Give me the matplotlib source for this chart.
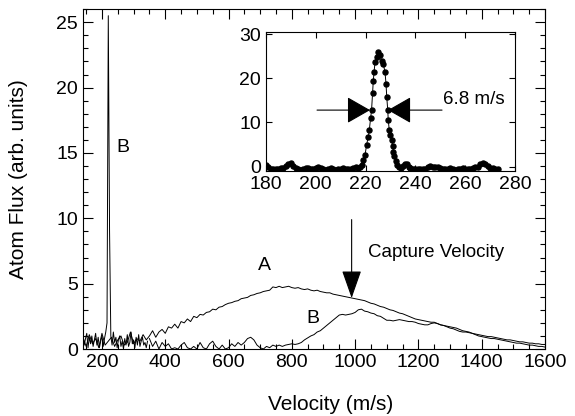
import numpy as np
import matplotlib.pyplot as plt

plt.rcParams['font.family'] = ['Liberation Sans', 'DejaVu Sans']

# curve A, sampled every 10 m/s from 140 to 1600
vel_a = np.arange(140, 1601, 10)
flux_a = [
    0.9, 0.2, 1.1, 0.4, 0.8, 0.1, 1.2, 0.3, 0.6, 0.9, 0.2, 0.7, 1.0, 0.3, 0.5,
    1.3, 0.4, 0.8, 0.6, 1.1, 0.7,
    1.0, 1.4, 0.9, 1.3, 1.5, 1.2, 1.7, 1.6, 1.9, 1.6, 2.1, 2.0, 2.3, 2.1, 2.5, 2.4,
    2.65, 2.6, 2.8, 2.85, 3.05, 3.0, 3.2, 3.25, 3.4, 3.5, 3.55, 3.65, 3.7, 3.85,
    3.9, 3.95, 4.1, 4.15, 4.25, 4.3, 4.4, 4.45, 4.5, 4.75, 4.7,
    4.8, 4.7, 4.75, 4.8, 4.7, 4.65, 4.7, 4.6, 4.55, 4.6, 4.5, 4.45, 4.5, 4.4, 4.35,
    4.3, 4.3, 4.2, 4.15, 4.1, 4.05, 4.0, 3.95, 3.9,
    3.85, 3.8, 3.75, 3.7, 3.6, 3.5, 3.45, 3.35, 3.25, 3.2, 3.1, 3.0, 2.95, 2.85,
    2.75, 2.7, 2.6, 2.5, 2.4, 2.3, 2.25, 2.2, 2.15, 2.1, 2.05, 2.05, 1.95, 1.85,
    1.8, 1.7, 1.6,
    1.55, 1.45, 1.35, 1.3, 1.3, 1.25, 1.2, 1.15, 1.1, 1.05, 1.0, 0.95, 0.95, 0.9,
    0.85, 0.8, 0.75, 0.7, 0.7, 0.65, 0.6, 0.55, 0.55, 0.5, 0.45, 0.45, 0.4, 0.4,
    0.35, 0.35,
]

# curve B, low velocity part every 4 m/s (noise + narrow peak)
vel_b_low = np.arange(140, 345, 4)
flux_b_low = [
    1.1, 0.3, 0.8, 1.2, 0.1, 0.9, 0.4, 1.0, 0.2, 0.7,
    1.2, 0.3, 0.9, 0.1, 0.6, 1.0, 0.2, 0.8, 1.3, 2.0,
    25.5, 9.0, 1.0, 0.3, 1.3, 0.5, 0.9, 0.1, 0.7, 1.0,
    0.2, 0.6, 0.0, 0.8, 0.3, 1.1, 0.2, 0.5, 1.3, 0.4,
    0.7, 0.1, 0.9, 0.3, 1.1, 0.2, 0.6, 0.9, 0.3, 0.5,
    0.1, 0.6,
]
# curve B, rest every 10 m/s
vel_b = np.arange(350, 1601, 10)
flux_b = [
    0.8, 0.2, 0.6, 0.0, 0.5, 0.2, 0.4, 0.0, 0.1, 0.0, 0.3, 0.5, 0.1, 0.0, 0.2,
    0.0, 0.5, 0.1, 0.0, 0.4, 0.6, 0.2, 0.0, 0.3, 0.0, 0.1, 0.4, 0.2, 0.5, 0.3,
    0.5, 0.8, 0.9, 0.7, 0.3, 0.1, 0.0, 0.2, 0.1, 0.3, 0.2, 0.3, 0.2, 0.3, 0.35,
    0.4, 0.35, 0.4, 0.5, 0.7, 0.85, 1.0, 1.1, 1.3, 1.4, 1.6, 1.8, 2.0, 2.2, 2.4,
    2.6, 2.65, 2.6, 2.65, 2.7, 2.8, 3.0, 3.05, 2.9, 2.85, 2.75, 2.7, 2.55, 2.5,
    2.35, 2.2, 2.2, 2.15, 2.2, 2.25, 2.2, 2.15, 2.1, 2.1, 2.05, 1.95, 1.9, 1.85,
    1.85, 1.95, 2.0, 1.95, 1.85, 1.8, 1.75, 1.7, 1.65, 1.6, 1.5, 1.4, 1.35, 1.3,
    1.2, 1.1, 1.0, 0.95, 0.9, 0.85, 0.8, 0.8, 0.75, 0.7, 0.65, 0.6, 0.55, 0.5,
    0.45, 0.45, 0.4, 0.35, 0.3, 0.3, 0.25, 0.2, 0.2, 0.15,
]

# inset: zoom of the B peak
vel_in = (
    list(range(180, 218))
    + [217.7, 218.4, 219.1, 219.8, 220.4, 221.1, 221.5, 222.0, 222.4, 222.8,
       223.1, 223.4, 223.8, 224.5, 225.1, 225.8, 226.5, 227.1, 227.8, 228.2,
       228.5, 228.9, 229.1, 229.5, 230.0, 230.5, 230.9, 231.2, 231.6, 232.2,
       232.8, 233.5, 234.2, 235.0, 235.8, 236.5, 237.3, 238.0]
    + list(range(239, 274))
)
flux_in = [
    0.4, -0.2, -0.5, -0.5, -0.6, -0.6, -0.4, -0.3, 0.1, 0.6, 0.7, 0.2, -0.4,
    -0.6, -0.7, -0.5, -0.3, -0.3, -0.5, -0.6, -0.4, -0.2, -0.3, -0.6, -0.7,
    -0.6, -0.4, -0.5, -0.7, -0.6, -0.5, -0.4, -0.5, -0.6, -0.5, -0.3, -0.2, -0.3,
    0.0, 0.45, 1.6, 2.7, 4.9, 6.8, 8.3, 10.9, 12.8, 16.6, 19.5, 21.4, 23.7,
    24.8, 25.9, 25.2, 24.0, 23.3, 21.4, 18.8, 15.8, 12.8, 10.6, 8.3, 7.2, 6.0,
    4.6, 3.4, 2.3, 1.2, 0.4, -0.1, -0.3, 0.2, 0.6, 0.5, -0.1, -0.4,
    -0.5, -0.6, -0.6, -0.5, -0.6, -0.5, -0.1, 0.1, -0.2, 0.0, -0.1, -0.4, -0.5,
    -0.6, -0.5, -0.4, -0.6, -0.7, -0.6, -0.5, -0.4, -0.5, -0.6, -0.5, -0.3,
    -0.2, 0.0, 0.5, 0.8, 0.6, 0.1, -0.3, -0.4, -0.5, -0.5,
]

fig = plt.figure(figsize=(5.75, 4.16), dpi=100)
ax = fig.add_axes([0.1443, 0.161, 0.8035, 0.817])

lw = 0.7
ax.plot(vel_a, flux_a, color='black', lw=lw)
ax.plot(vel_b_low, flux_b_low, color='black', lw=lw)
ax.plot(vel_b, flux_b, color='black', lw=lw)

ax.set_xlim(140, 1600)
ax.set_ylim(0, 26)
ax.set_xticks(range(200, 1601, 200))
ax.set_xticks(range(150, 1601, 50), minor=True)
ax.set_yticks(range(0, 26, 5))
ax.set_yticks(range(0, 27, 1), minor=True)
ax.tick_params(which='both', direction='in', top=True, right=True, width=0.8,
               labelsize=14)
ax.tick_params(which='major', length=7)
ax.tick_params(which='minor', length=3.5)
for s in ax.spines.values():
    s.set_linewidth(0.8)

ax.set_xlabel('Velocity (m/s)', fontsize=15)
ax.set_ylabel('Atom Flux (arb. units)', fontsize=15)
ax.xaxis.set_label_coords(0.535, -0.135)
ax.yaxis.set_label_coords(-0.119, 0.5)

ax.text(266, 15.4, 'B', fontsize=14, ha='center', va='center')
ax.text(715, 6.4, 'A', fontsize=14, ha='center', va='center')
ax.text(867, 2.37, 'B', fontsize=14, ha='center', va='center')
ax.text(1041, 7.4, 'Capture Velocity', fontsize=13.5, ha='left', va='center')
ax.annotate('', xy=(989, 3.9), xytext=(989, 9.9),
            arrowprops=dict(arrowstyle='-|>,head_length=1.25,head_width=0.44',
                            mutation_scale=14, color='black', lw=0.8,
                            shrinkA=0, shrinkB=0))

# inset
ins = fig.add_axes([0.4626, 0.589, 0.433, 0.334])
ins.plot(vel_in, flux_in, color='black', lw=0.7, marker='o', ms=3.6)
ins.set_xlim(180, 280)
ins.set_ylim(-1, 30.5)
ins.set_xticks(range(180, 281, 20))
ins.set_yticks([0, 10, 20, 30])
ins.tick_params(direction='in', top=True, right=True, length=4, width=0.8,
                labelsize=14)
for s in ins.spines.values():
    s.set_linewidth(0.8)

arrow_style = dict(arrowstyle='-|>,head_length=1.05,head_width=0.6',
                   mutation_scale=14, color='black', lw=0.8,
                   shrinkA=0, shrinkB=0)
ins.annotate('', xy=(221.8, 12.8), xytext=(200.5, 12.8), arrowprops=arrow_style)
ins.annotate('', xy=(229.0, 12.8), xytext=(250.7, 12.8), arrowprops=arrow_style)
ins.text(250.9, 15.1, '6.8 m/s', fontsize=13.5, ha='left', va='center')

fig.savefig('out.png', dpi=100)
